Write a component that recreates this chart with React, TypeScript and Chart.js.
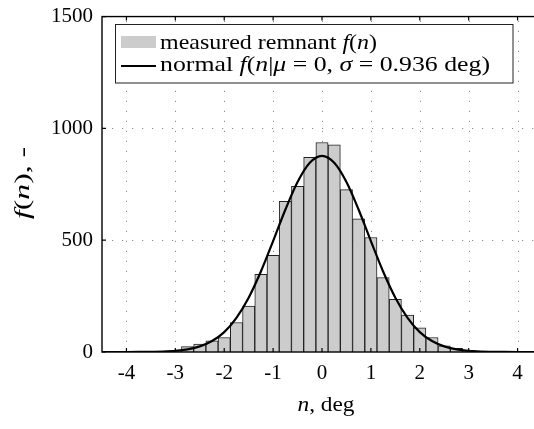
import React, { useEffect, useRef } from 'react';
import { Chart, registerables } from 'chart.js';

Chart.register(...registerables);

// Histogram bins (centres, deg) and counts
const binCenters = [-3.25, -3.0, -2.75, -2.5, -2.25, -2.0, -1.75, -1.5, -1.25, -1.0, -0.75, -0.5, -0.25, 0, 0.25, 0.5, 0.75, 1.0, 1.25, 1.5, 1.75, 2.0, 2.25, 2.5, 2.75, 3.0, 3.25];
const binCounts = [2, 5, 24, 35, 50, 65, 132, 205, 347, 432, 674, 741, 870, 937, 926, 726, 595, 512, 333, 235, 165, 108, 65, 28, 16, 6, 2];

// Normal curve
const curveN = [-4.5, -4.25, -4.0, -3.75, -3.5, -3.25, -3.0, -2.75, -2.5, -2.25, -2.0, -1.75, -1.5, -1.25, -1.0, -0.75, -0.5, -0.25, 0, 0.25, 0.5, 0.75, 1.0, 1.25, 1.5, 1.75, 2.0, 2.25, 2.5, 2.75, 3.0, 3.25, 3.5, 3.75, 4.0, 4.25, 4.5];
const curveF = [0, 0, 0, 0.3, 1, 2, 5, 12, 25, 49, 89, 153, 243, 360, 496, 636, 760, 846, 877, 846, 760, 636, 496, 360, 243, 153, 89, 49, 25, 12, 5, 2, 1, 0.3, 0, 0, 0];

const xTicks = [-4, -3, -2, -1, 0, 1, 2, 3, 4];
const yTicks = [0, 500, 1000, 1500];

const FAMILY = '"Liberation Serif", "Times New Roman", serif';
const fnt = (size: number, it?: boolean) => `${it ? 'italic ' : ''}${size}px ${FAMILY}`;

type Seg = { t: string; it?: boolean };

function richWidth(ctx: CanvasRenderingContext2D, segs: Seg[], size: number) {
  let w = 0;
  for (const s of segs) {
    ctx.font = fnt(size, s.it);
    w += ctx.measureText(s.t).width;
  }
  return w;
}

function drawRich(
  ctx: CanvasRenderingContext2D,
  segs: Seg[],
  x: number,
  y: number,
  size: number,
  align: 'left' | 'center',
  target?: number
) {
  const w = richWidth(ctx, segs, size);
  const sx = target ? target / w : 1;
  ctx.save();
  ctx.translate(x, y);
  ctx.scale(sx, 1);
  let cx = align === 'center' ? -w / 2 : 0;
  ctx.textAlign = 'left';
  for (const s of segs) {
    ctx.font = fnt(size, s.it);
    ctx.fillText(s.t, cx, 0);
    cx += ctx.measureText(s.t).width;
  }
  ctx.restore();
}

const decorPlugin = {
  id: 'decor',
  beforeDatasetsDraw(chart: any) {
    const { ctx, chartArea: a, scales } = chart;
    const xs = scales.x;
    const ys = scales.y;
    ctx.save();
    ctx.strokeStyle = '#8c8c8c';
    ctx.lineWidth = 1;
    ctx.setLineDash([1.2, 8.8]);
    ctx.beginPath();
    for (const v of xTicks) {
      const px = Math.round(xs.getPixelForValue(v)) + 0.5;
      ctx.moveTo(px, a.bottom);
      ctx.lineTo(px, a.top);
    }
    for (const v of yTicks) {
      if (v === 0 || v === 1500) continue;
      const py = Math.round(ys.getPixelForValue(v)) + 0.5;
      ctx.moveTo(a.left, py);
      ctx.lineTo(a.right, py);
    }
    ctx.stroke();
    ctx.restore();
  },
  afterDatasetsDraw(chart: any) {
    const { ctx, chartArea: a, scales } = chart;
    const xs = scales.x;
    const ys = scales.y;
    ctx.save();
    // frame
    ctx.strokeStyle = '#000';
    ctx.lineWidth = 1.4;
    ctx.strokeRect(a.left, a.top, a.right - a.left, a.bottom - a.top);
    // inward ticks
    ctx.lineWidth = 1.2;
    ctx.beginPath();
    for (const v of xTicks) {
      const px = xs.getPixelForValue(v);
      ctx.moveTo(px, a.bottom);
      ctx.lineTo(px, a.bottom - 4);
      ctx.moveTo(px, a.top);
      ctx.lineTo(px, a.top + 4);
    }
    for (const v of yTicks) {
      const py = ys.getPixelForValue(v);
      ctx.moveTo(a.left, py);
      ctx.lineTo(a.left + 4, py);
      ctx.moveTo(a.right, py);
      ctx.lineTo(a.right - 4, py);
    }
    ctx.stroke();

    // legend
    const lx = 115.5, ly = 24.5, lw = 397.5, lh = 58.5;
    ctx.fillStyle = '#fff';
    ctx.fillRect(lx, ly, lw, lh);
    ctx.strokeStyle = '#222';
    ctx.lineWidth = 1;
    ctx.strokeRect(lx, ly, lw, lh);
    ctx.fillStyle = '#cccccc';
    ctx.fillRect(121, 36, 35, 12);
    ctx.strokeStyle = '#000';
    ctx.lineWidth = 2;
    ctx.beginPath();
    ctx.moveTo(121, 66);
    ctx.lineTo(156, 66);
    ctx.stroke();
    ctx.fillStyle = '#000';
    ctx.textBaseline = 'alphabetic';
    drawRich(ctx, [{ t: 'measured remnant ' }, { t: 'f', it: true }, { t: '(' }, { t: 'n', it: true }, { t: ')' }], 160, 49, 21, 'left', 217);
    drawRich(ctx, [{ t: 'normal ' }, { t: 'f', it: true }, { t: '(' }, { t: 'n', it: true }, { t: '|' }, { t: 'μ', it: true }, { t: ' = 0, ' }, { t: 'σ', it: true }, { t: ' = 0.936 deg)' }], 160, 71, 21, 'left', 330);

    // axis titles
    drawRich(ctx, [{ t: 'n', it: true }, { t: ', deg' }], 326, 411, 22, 'center', 57);
    ctx.translate(23, 183);
    ctx.rotate(-Math.PI / 2);
    ctx.textBaseline = 'middle';
    drawRich(ctx, [{ t: 'f', it: true }, { t: '(' }, { t: 'n', it: true }, { t: '), -' }], 0, 0, 22, 'center', 72);
    ctx.restore();
  },
};

export default function App() {
  const ref = useRef<HTMLCanvasElement | null>(null);

  useEffect(() => {
    const canvas = ref.current;
    if (!canvas) return;
    const chart = new Chart(canvas, {
      type: 'bar',
      data: {
        datasets: [
          {
            type: 'line',
            label: 'normal',
            data: curveN.map((x, i) => ({ x, y: curveF[i] })),
            borderColor: '#000',
            borderWidth: 2.2,
            pointRadius: 0,
            cubicInterpolationMode: 'monotone',
            fill: false,
            order: 0,
          } as any,
          {
            type: 'bar',
            label: 'measured remnant',
            data: binCenters.map((x, i) => ({ x, y: binCounts[i] })),
            backgroundColor: '#cccccc',
            borderColor: '#222',
            borderWidth: 1,
            barPercentage: 1,
            categoryPercentage: 1,
            order: 1,
          } as any,
        ],
      },
      options: {
        animation: false,
        responsive: false,
        layout: { padding: { left: 0, right: 18, top: 10, bottom: 0 } },
        plugins: { legend: { display: false }, tooltip: { enabled: false } },
        scales: {
          x: {
            type: 'linear',
            min: -4.5,
            max: 4.5,
            offset: false,
            grid: { display: false, drawTicks: false },
            border: { display: false },
            afterBuildTicks: (s: any) => {
              s.ticks = xTicks.map((v) => ({ value: v }));
            },
            afterFit: (s: any) => {
              s.height = 77;
            },
            ticks: {
              padding: 11,
              color: '#000',
              font: { family: FAMILY, size: 21, lineHeight: 1 },
              maxRotation: 0,
              autoSkip: false,
              callback: (v: any) => String(v),
            },
          },
          y: {
            type: 'linear',
            min: 0,
            max: 1500,
            grid: { display: false, drawTicks: false },
            border: { display: false },
            afterBuildTicks: (s: any) => {
              s.ticks = yTicks.map((v) => ({ value: v }));
            },
            afterFit: (s: any) => {
              s.width = 102;
            },
            ticks: {
              padding: 9,
              color: '#000',
              font: { family: FAMILY, size: 21, lineHeight: 0.72 },
              callback: (v: any) => String(v),
            },
          },
        },
      } as any,
      plugins: [decorPlugin],
    });
    return () => chart.destroy();
  }, []);

  return (
    <div style={{ position: 'fixed', left: 0, top: 0, width: 534, height: 429, overflow: 'hidden', background: '#fff' }}>
      <canvas ref={ref} width={560} height={429} style={{ display: 'block', width: 560, height: 429 }} />
    </div>
  );
}
